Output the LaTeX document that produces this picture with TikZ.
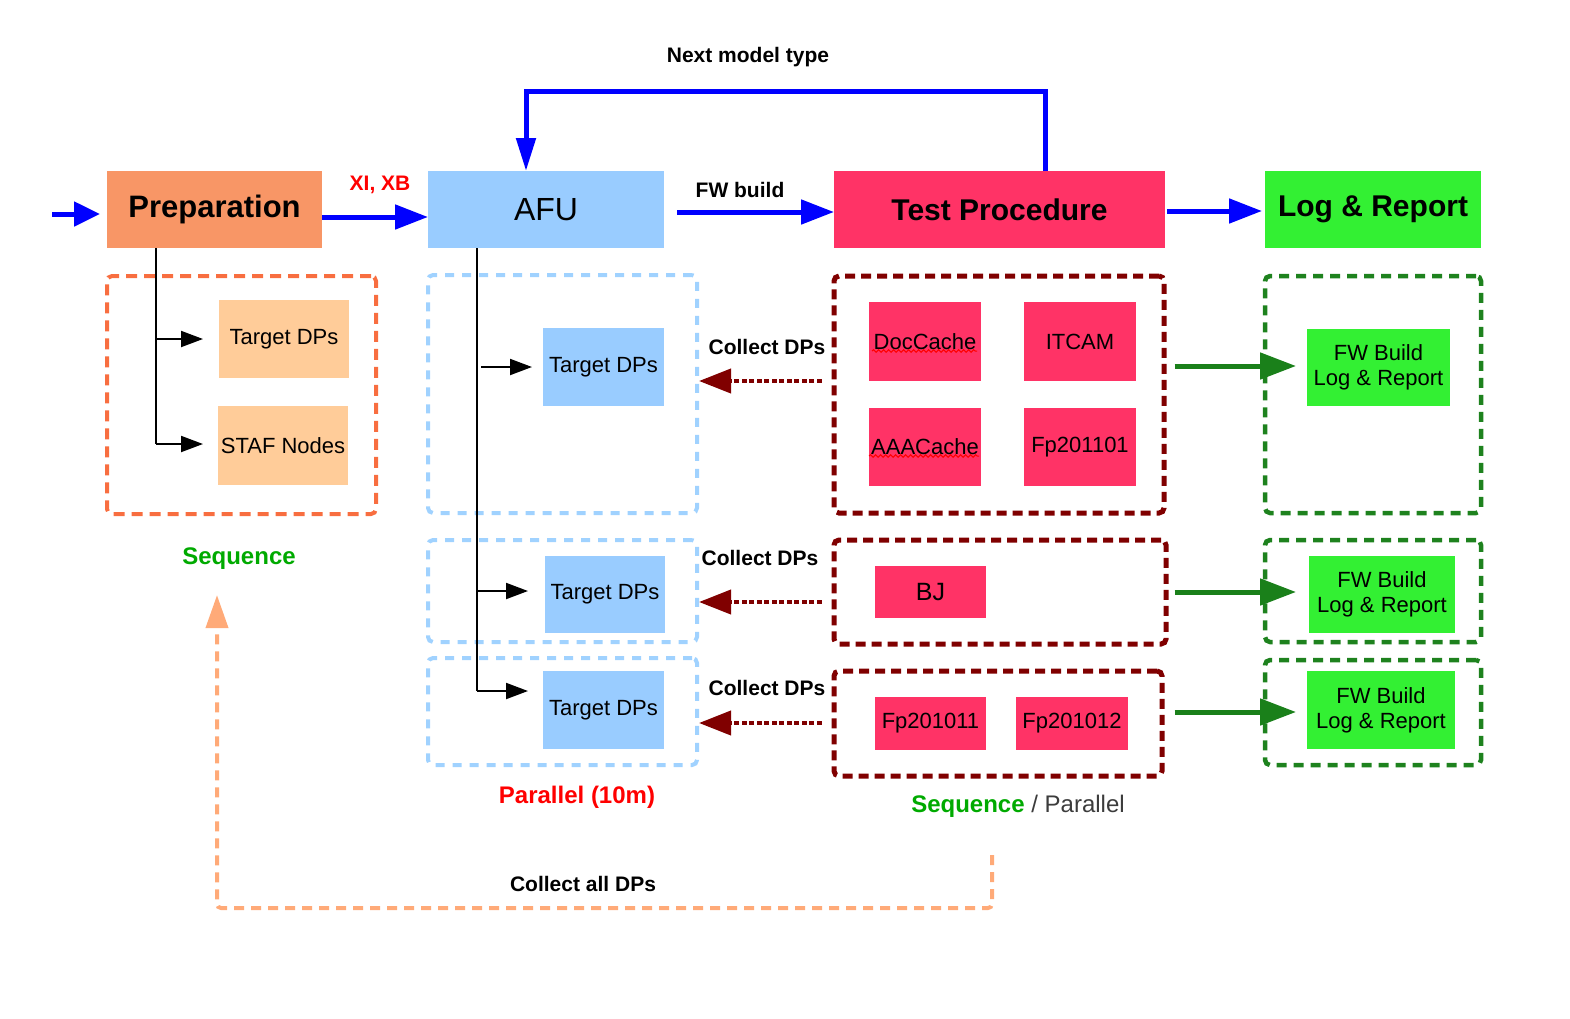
\documentclass[tikz,border=0pt]{standalone}
\usepackage{fontspec}
\setmainfont{Liberation Sans}
\usetikzlibrary{arrows.meta,fit,decorations.pathmorphing}
\definecolor{prepfill}{RGB}{248,150,102}
\definecolor{prepitem}{RGB}{255,204,153}
\definecolor{prepframe}{RGB}{248,110,64}
\definecolor{afufill}{RGB}{153,204,255}
\definecolor{afuframe}{RGB}{160,210,255}
\definecolor{tpfill}{RGB}{255,51,102}
\definecolor{tpframe}{RGB}{128,0,0}
\definecolor{logfill}{RGB}{51,240,51}
\definecolor{logframe}{RGB}{30,130,30}
\definecolor{garrow}{RGB}{26,128,26}
\definecolor{peach}{RGB}{255,170,120}
\definecolor{seqgreen}{RGB}{0,170,0}
\definecolor{bluearr}{RGB}{0,0,255}
\definecolor{pargray}{RGB}{60,60,60}
\newcommand\mybox[7]{\node[boxbase,#6,minimum width={(#4-#2)*1pt},minimum height={(#5-#3)*1pt}] (#1) at ({(#2+#4)/2},{(#3+#5)/2}) {#7};}
\begin{document}
\begin{tikzpicture}[x=1pt,y=-1pt,
  boxbase/.style={inner sep=0pt,outer sep=0pt,align=center,anchor=center,font=\fontsize{22}{25}\selectfont},
  prepbox/.style={fill=prepfill,font=\fontsize{31}{34}\selectfont\bfseries},
  prepitembox/.style={fill=prepitem},
  afubox/.style={fill=afufill},
  tpbox/.style={fill=tpfill},
  logbox/.style={fill=logfill},
  frame/.style={draw,rounded corners=5pt,line width=4pt},
  prepfr/.style={frame,draw=prepframe,dash pattern=on 11pt off 7pt},
  afufr/.style={frame,draw=afuframe,dash pattern=on 9pt off 8pt},
  tpfr/.style={frame,draw=tpframe,line width=5pt,dash pattern=on 10pt off 6pt},
  logfr/.style={frame,draw=logframe,line width=4.5pt,dash pattern=on 10pt off 7pt},
  bluearrow/.style={draw=bluearr,line width=5pt,-{Triangle[length=33pt,width=24pt]}},
  blackarrow/.style={draw=black,line width=2pt,-{Triangle[length=22pt,width=16pt]}},
  collectarrow/.style={draw=tpframe,line width=4pt,dash pattern=on 5pt off 2.5pt,-{Triangle[length=32pt,width=24pt]}},
  greenarrow/.style={draw=garrow,line width=5pt,-{Triangle[length=36pt,width=26pt]}},
  lbl/.style={font=\fontsize{21}{24}\selectfont\bfseries,inner sep=0pt},
  wavy/.style={draw=red,line width=1pt,decorate,decoration={snake,amplitude=1.3pt,segment length=5pt}}
]
\useasboundingbox (0,0) rectangle (1570,1018);

% dashed frames
\node[prepfr,inner sep=0pt,fit={(107,276) (376,514)}] (pf) {};
\node[afufr,inner sep=0pt,fit={(428,275) (697,513)}] (af1) {};
\node[afufr,inner sep=0pt,fit={(428,540) (697,642)}] (af2) {};
\node[afufr,inner sep=0pt,fit={(428,658) (697,765)}] (af3) {};
\node[tpfr,inner sep=0pt,fit={(834,276) (1164,513)}] (tf1) {};
\node[tpfr,inner sep=0pt,fit={(834,540) (1166,644)}] (tf2) {};
\node[tpfr,inner sep=0pt,fit={(834,671) (1162,776)}] (tf3) {};
\node[logfr,inner sep=0pt,fit={(1265,276) (1481,513)}] (lf1) {};
\node[logfr,inner sep=0pt,fit={(1265,540) (1481,642)}] (lf2) {};
\node[logfr,inner sep=0pt,fit={(1265,660) (1481,765)}] (lf3) {};

% main boxes
\mybox{prep}{107}{171}{322}{248}{prepbox}{Preparation}
\mybox{afu}{428}{171}{664}{248}{afubox,font=\fontsize{32}{34}\selectfont}{AFU}
\mybox{tp}{834}{171}{1165}{248}{tpbox,font=\fontsize{30}{34}\selectfont\bfseries}{Test Procedure}
\mybox{log}{1265}{171}{1481}{248}{logbox,font=\fontsize{30}{34}\selectfont\bfseries}{Log \& Report}

% preparation items
\mybox{ptd}{219}{300}{349}{378}{prepitembox}{Target DPs}
\mybox{pstaf}{218}{406}{348}{485}{prepitembox}{STAF Nodes}

% AFU items
\mybox{atd1}{543}{328}{664}{406}{afubox}{Target DPs}
\mybox{atd2}{545}{556}{665}{633}{afubox}{Target DPs}
\mybox{atd3}{543}{671}{664}{749}{afubox}{Target DPs}

% test procedure items
\mybox{doc}{869}{302}{981}{381}{tpbox}{DocCache}
\mybox{itcam}{1024}{302}{1136}{381}{tpbox}{ITCAM}
\mybox{aaa}{869}{408}{981}{486}{tpbox}{AAACache}
\mybox{fp1}{1024}{408}{1136}{486}{tpbox}{Fp201101}
\mybox{bj}{875}{566}{986}{618}{tpbox,font=\fontsize{25}{28}\selectfont}{BJ}
\mybox{fp2}{875}{697}{986}{750}{tpbox}{Fp201011}
\mybox{fp3}{1016}{697}{1128}{750}{tpbox}{Fp201012}
\draw[wavy] (872,351) -- (977,351);
\draw[wavy] (869,456) -- (979,456);

% log items
\mybox{lg1}{1307}{329}{1450}{406}{logbox}{FW Build\\Log \& Report}
\mybox{lg2}{1309}{556}{1455}{633}{logbox}{FW Build\\Log \& Report}
\mybox{lg3}{1307}{671}{1455}{749}{logbox}{FW Build\\Log \& Report}

% labels
\node[lbl,text=red] (xixb) at (380,185) {XI, XB};
\node[lbl] (fwb) at (740,190) {FW build};
\node[lbl] (nmt) at (748,57) {Next model type};
\node[lbl] (cd1) at (767,347) {Collect DPs};
\node[lbl] (cd2) at (760,558) {Collect DPs};
\node[lbl] (cd3) at (767,688) {Collect DPs};
\node[lbl,text=seqgreen,font=\fontsize{24}{27}\selectfont\bfseries] (seq) at (239,559) {Sequence};
\node[lbl,text=red,font=\fontsize{24}{27}\selectfont\bfseries] (par) at (577,797) {Parallel (10m)};
\node[inner sep=0pt,font=\fontsize{24}{27}\selectfont] (seqpar) at (1018,806) {\textcolor{seqgreen}{\bfseries Sequence} \textcolor{pargray}{/ Parallel}};
\node[lbl] (cad) at (583,884) {Collect all DPs};

% blue main flow
\coordinate (in) at (52,214);
\draw[bluearrow,-{Triangle[length=26pt,width=24pt]},shorten >=7pt] (in) -- (in -| prep.west);
\draw[bluearrow] (prep.east |- 0,217) -- (afu.west |- 0,217);
\draw[bluearrow,shorten <=13pt] (afu.east |- 0,212) -- (tp.west |- 0,212);
\draw[bluearrow,shorten <=2pt,shorten >=3pt] (tp.east |- 0,211) -- (log.west |- 0,211);
\coordinate (loopc) at (1045,91);
\draw[bluearrow,-{Triangle[length=33pt,width=19pt]}] (tp.north -| loopc) -- (loopc) -| (afu.north -| 526,0);

% black branches
\draw[line width=2pt] (prep.south -| 156,0) -- (156,444);
\draw[blackarrow,shorten >=16pt] (156,339) -- (ptd.west |- 0,339);
\draw[blackarrow,shorten >=15pt] (156,444) -- (pstaf.west |- 0,444);
\draw[line width=2pt] (afu.south -| 477,0) -- (477,691);
\draw[blackarrow,shorten <=4pt,shorten >=11pt] (477,367) -- (atd1.west |- 0,367);
\draw[blackarrow,shorten >=17pt] (477,591) -- (atd2.west |- 0,591);
\draw[blackarrow,shorten >=15pt] (477,691) -- (atd3.west |- 0,691);

% collect DPs arrows
\draw[collectarrow,shorten <=10pt] (tf1.west |- 0,381) -- (af1.east |- 0,381);
\draw[collectarrow,shorten <=10pt] (tf2.west |- 0,602) -- (af2.east |- 0,602);
\draw[collectarrow,shorten <=10pt] (tf3.west |- 0,723) -- (af3.east |- 0,723);

% green arrows
\draw[greenarrow,shorten <=8pt,shorten >=11pt] (tf1.east |- 0,366) -- (lg1.west |- 0,366);
\draw[greenarrow,shorten <=6pt,shorten >=13pt] (tf2.east |- 0,592) -- (lg2.west |- 0,592);
\draw[greenarrow,shorten <=10pt,shorten >=11pt] (tf3.east |- 0,712) -- (lg3.west |- 0,712);

% collect all DPs loop
\coordinate (cas) at (992,855);
\coordinate (cac) at (992,908);
\draw[draw=peach,line width=4pt,dash pattern=on 10pt off 7pt,rounded corners=4pt,-{Triangle[length=33pt,width=22pt]},shorten >=25pt]
  (cas) -- (cac) -| (seq.south -| 217,0);
\end{tikzpicture}
\end{document}
